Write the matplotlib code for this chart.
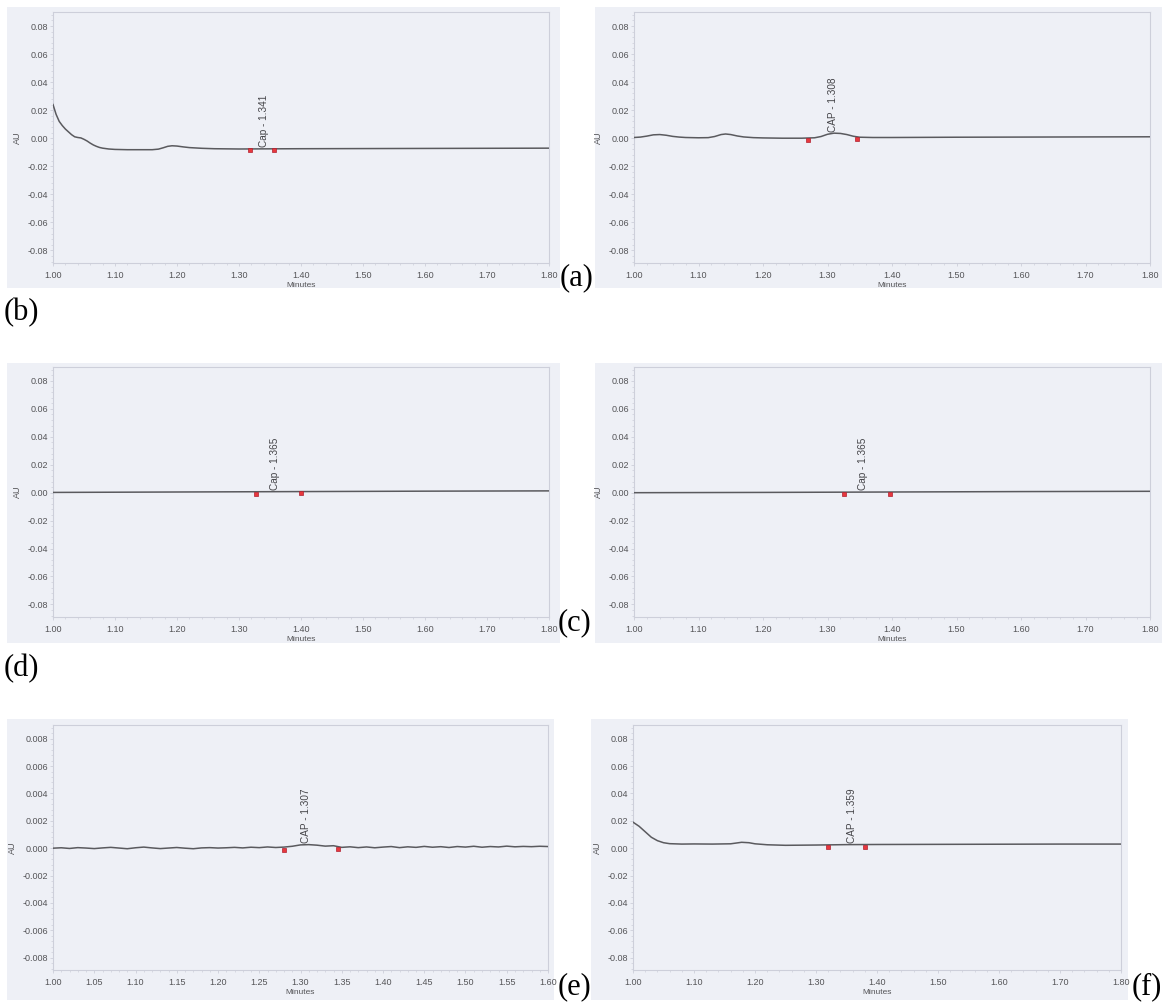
import matplotlib
matplotlib.use("Agg")
import matplotlib.pyplot as plt
from matplotlib.patches import Rectangle
from matplotlib.ticker import AutoMinorLocator
import numpy as np

plt.rcParams['axes.unicode_minus'] = False
plt.rcParams['font.family'] = ['Liberation Sans', 'DejaVu Sans']

W, H = 1169, 1002

# ---------------- data ----------------
a_x = [1.000, 1.005, 1.010, 1.015, 1.020, 1.025, 1.030, 1.035, 1.040, 1.045, 1.050, 1.055,
       1.060, 1.065, 1.070, 1.075, 1.080, 1.090, 1.100, 1.120, 1.140, 1.160, 1.170, 1.178,
       1.185, 1.192, 1.200, 1.210, 1.220, 1.240, 1.260, 1.300, 1.340, 1.400, 1.500, 1.600,
       1.700, 1.800]
a_y = [0.024, 0.017, 0.012, 0.009, 0.0065, 0.0045, 0.0025, 0.001, 0.0005, 0.0002, -0.0008, -0.002,
       -0.0035, -0.0048, -0.0058, -0.0066, -0.0071, -0.0077, -0.0080, -0.0082, -0.0082, -0.0082,
       -0.0078, -0.0068, -0.0058, -0.0054, -0.0056, -0.0062, -0.0067, -0.0072, -0.0075, -0.0077,
       -0.0076, -0.0075, -0.0074, -0.0073, -0.0072, -0.0071]
a_mk_x = [1.318, 1.357]
a_mk_y = [-0.0086, -0.0086]
a_label, a_rt = "Cap - 1.341", 1.341

b_x = [1.000, 1.010, 1.020, 1.030, 1.040, 1.050, 1.060, 1.070, 1.080, 1.100, 1.115, 1.125,
       1.135, 1.142, 1.150, 1.160, 1.170, 1.185, 1.200, 1.230, 1.260, 1.280, 1.290, 1.300,
       1.310, 1.320, 1.330, 1.340, 1.350, 1.370, 1.400, 1.500, 1.600, 1.700, 1.800]
b_y = [0.0005, 0.0008, 0.0015, 0.0024, 0.0026, 0.0021, 0.0013, 0.0008, 0.0005, 0.0003, 0.0004, 0.0012,
       0.0026, 0.0030, 0.0026, 0.0016, 0.0009, 0.0004, 0.0002, 0.0000, 0.0000, 0.0003, 0.0012, 0.0028,
       0.0036, 0.0034, 0.0026, 0.0014, 0.0007, 0.0005, 0.0005, 0.0007, 0.0008, 0.0009, 0.0010]
b_mk_x = [1.270, 1.345]
b_mk_y = [-0.0012, -0.0004]
b_label, b_rt = "CAP - 1.308", 1.308

c_x = [1.00, 1.20, 1.40, 1.60, 1.80]
c_y = [0.0002, 0.0005, 0.0008, 0.0011, 0.0013]
c_mk_x = [1.327, 1.400]
c_mk_y = [-0.0006, -0.0004]
c_label, c_rt = "Cap - 1.365", 1.358

d_x = [1.00, 1.20, 1.40, 1.60, 1.80]
d_y = [0.0000, 0.0002, 0.0005, 0.0008, 0.0010]
d_mk_x = [1.325, 1.397]
d_mk_y = [-0.0012, -0.0010]
d_label, d_rt = "Cap - 1.365", 1.355

e_x = [round(1.00 + 0.01 * i, 2) for i in range(61)]
e_y = [0.00000, 0.00003, -0.00002, 0.00004, 0.00001, -0.00003, 0.00002, 0.00006, 0.00001, -0.00004,
       0.00003, 0.00008, 0.00002, -0.00003, 0.00001, 0.00005, 0.00000, -0.00004, 0.00002, 0.00004,
       0.00001, 0.00003, 0.00006, 0.00002, 0.00007, 0.00004, 0.00009, 0.00005, 0.00008, 0.00014,
       0.00024, 0.00026, 0.00022, 0.00015, 0.00018, 0.00006, 0.00010, 0.00004, 0.00009, 0.00003,
       0.00008, 0.00012, 0.00004, 0.00010, 0.00006, 0.00013, 0.00007, 0.00011, 0.00005, 0.00012,
       0.00008, 0.00014, 0.00007, 0.00012, 0.00009, 0.00015, 0.00010, 0.00013, 0.00011, 0.00014,
       0.00012]
e_mk_x = [1.280, 1.346]
e_mk_y = [-0.00012, -0.00008]
e_label, e_rt = "CAP - 1.307", 1.307

f_x = [1.000, 1.010, 1.020, 1.030, 1.040, 1.050, 1.060, 1.080, 1.100, 1.130, 1.160, 1.170,
       1.178, 1.190, 1.200, 1.220, 1.250, 1.300, 1.350, 1.400, 1.500, 1.600, 1.700, 1.800]
f_y = [0.019, 0.016, 0.012, 0.008, 0.0055, 0.004, 0.0033, 0.0030, 0.0031, 0.0030, 0.0032, 0.0038,
       0.0043, 0.0040, 0.0032, 0.0025, 0.0021, 0.0023, 0.0026, 0.0027, 0.0028, 0.0029, 0.0030, 0.0030]
f_mk_x = [1.320, 1.380]
f_mk_y = [0.0010, 0.0012]
f_label, f_rt = "CAP - 1.359", 1.359

ticks_big = [0.08, 0.06, 0.04, 0.02, 0.00, -0.02, -0.04, -0.06, -0.08]
ticks_small = [0.008, 0.006, 0.004, 0.002, 0.000, -0.002, -0.004, -0.006, -0.008]
xt_long = [1.00, 1.10, 1.20, 1.30, 1.40, 1.50, 1.60, 1.70, 1.80]
xt_short = [1.00, 1.05, 1.10, 1.15, 1.20, 1.25, 1.30, 1.35, 1.40, 1.45, 1.50, 1.55, 1.60]

# ---------------- layout ----------------
fig = plt.figure(figsize=(W / 100, H / 100), dpi=100)
fig.patch.set_facecolor('white')

BG = '#eef0f6'
FRAME = '#cdcfda'
LINE = '#5a5a5e'
TXT = '#555558'


def rect(x0, y0, x1, y1):
    return [x0 / W, 1 - y1 / H, (x1 - x0) / W, (y1 - y0) / H]


def panel(photo, box, xs, ys, mkx, mky, label, rt, yt, xt, ylim, yfmt, xfmt, lab_off):
    fig.patches.append(Rectangle((photo[0] / W, 1 - photo[3] / H),
                                 (photo[2] - photo[0]) / W, (photo[3] - photo[1]) / H,
                                 transform=fig.transFigure, facecolor=BG, edgecolor='none',
                                 zorder=-5))
    ax = fig.add_axes(rect(*box))
    ax.set_zorder(1)
    ax.set_facecolor(BG)
    ax.plot(xs, ys, color=LINE, lw=1.1, zorder=3)
    ax.plot(mkx, mky, linestyle='none', marker='s', ms=2.6, mfc='#e8383d',
            mec='#b02030', mew=0.5, zorder=4)
    yl = float(np.interp(rt, xs, ys))
    ax.text(rt, yl + lab_off, label, rotation=90, ha='center', va='bottom',
            fontsize=7.2, color='#444448', zorder=5)
    ax.set_xlim(xt[0], xt[-1])
    ax.set_ylim(*ylim)
    ax.set_yticks(yt)
    ax.set_yticklabels([yfmt % v for v in yt])
    ax.set_xticks(xt)
    ax.set_xticklabels([xfmt % v for v in xt])
    ax.xaxis.set_minor_locator(AutoMinorLocator(5))
    ax.yaxis.set_minor_locator(AutoMinorLocator(5))
    for s in ax.spines.values():
        s.set_color(FRAME)
        s.set_linewidth(0.8)
    ax.tick_params(axis='both', which='major', length=2, width=0.6, color=FRAME,
                   direction='out', labelsize=6.5, labelcolor=TXT)
    ax.tick_params(axis='both', which='minor', length=1.5, width=0.5, color=FRAME,
                   direction='out')
    ax.tick_params(axis='x', which='major', pad=4)
    ax.tick_params(axis='y', which='major', pad=1.5)
    ax.set_ylabel('AU', fontsize=6.5, color=TXT, labelpad=4)
    ax.set_xlabel('Minutes', fontsize=6, color=TXT, labelpad=1)
    return ax


big = (-0.089, 0.09)
small = (-0.0089, 0.009)

panel((7, 7, 560, 288), (53, 12, 549, 263), a_x, a_y, a_mk_x, a_mk_y, a_label, a_rt,
      ticks_big, xt_long, big, '%.2f', '%.2f', 0.0015)
panel((595, 7, 1162, 288), (634, 12, 1150, 263), b_x, b_y, b_mk_x, b_mk_y, b_label, b_rt,
      ticks_big, xt_long, big, '%.2f', '%.2f', 0.0012)
panel((7, 363, 560, 643), (53, 367, 549, 617), c_x, c_y, c_mk_x, c_mk_y, c_label, c_rt,
      ticks_big, xt_long, big, '%.2f', '%.2f', 0.0012)
panel((595, 363, 1162, 643), (634, 367, 1150, 617), d_x, d_y, d_mk_x, d_mk_y, d_label, d_rt,
      ticks_big, xt_long, big, '%.2f', '%.2f', 0.0012)
panel((7, 719, 554, 1000), (53, 725, 548, 970), e_x, e_y, e_mk_x, e_mk_y, e_label, e_rt,
      ticks_small, xt_short, small, '%.3f', '%.2f', 0.00012)
panel((591, 719, 1128, 1000), (633, 725, 1121, 970), f_x, f_y, f_mk_x, f_mk_y, f_label, f_rt,
      ticks_big, xt_long, big, '%.2f', '%.2f', 0.0012)

# panel letters
serif = ['Liberation Serif', 'DejaVu Serif']
for s, x, y in [("(a)", 560, 285), ("(b)", 4, 320), ("(c)", 558, 630), ("(d)", 4, 676),
                ("(e)", 558, 994), ("(f)", 1132, 994)]:
    fig.text(x / W, 1 - y / H, s, fontsize=22, family=serif, ha='left', va='baseline',
             color='black')

fig.savefig('out.png', dpi=100, facecolor='white')
